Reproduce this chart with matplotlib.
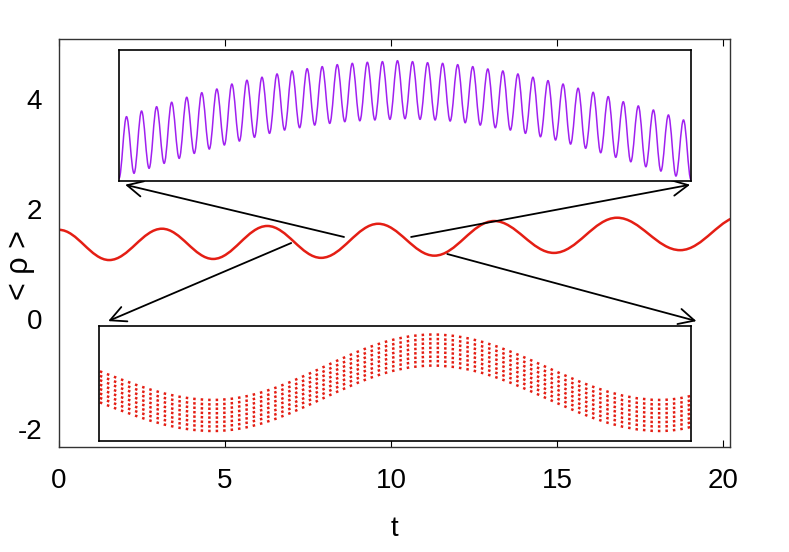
import numpy as np
import matplotlib.pyplot as plt
from matplotlib.path import Path
from matplotlib.patches import PathPatch

plt.rcParams['font.family'] = ['Liberation Sans', 'DejaVu Sans']
plt.rcParams['axes.unicode_minus'] = False

# main curve: turning points of <rho>(t)
t_turn = [0.0, 1.51, 3.10, 4.64, 6.27, 7.89, 9.61, 11.30, 13.10, 14.90, 16.80, 18.70, 20.60]
rho_turn = [1.62, 1.07, 1.64, 1.09, 1.69, 1.11, 1.73, 1.15, 1.78, 1.20, 1.84, 1.25, 1.88]

x_ticks = [0, 5, 10, 15, 20]
y_ticks = [-2, 0, 2, 4]

# upper inset (purple): peak and trough heights, inset units 0..1
peaks = [0.491, 0.534, 0.567, 0.601, 0.639, 0.674, 0.702, 0.740, 0.769, 0.792,
         0.817, 0.840, 0.857, 0.873, 0.888, 0.898, 0.906, 0.911, 0.918,
         0.911, 0.903, 0.898, 0.888, 0.873, 0.855, 0.840, 0.817, 0.792, 0.766,
         0.740, 0.708, 0.677, 0.644, 0.605, 0.573, 0.542, 0.504, 0.466]
troughs = [0.059, 0.097, 0.135, 0.173, 0.211, 0.244, 0.275, 0.305, 0.334, 0.364,
           0.389, 0.407, 0.427, 0.440, 0.453, 0.460, 0.466, 0.471, 0.476,
           0.471, 0.466, 0.458, 0.445, 0.427, 0.407, 0.389, 0.364, 0.338, 0.313,
           0.282, 0.250, 0.216, 0.181, 0.147, 0.109, 0.076, 0.038]
purple_start, purple_end = 0.02, 0.01

# lower inset (red dotted): turning points of the band centre + offset of each trace
band_x = [-0.17, 0.193, 0.564, 0.948, 1.15]
band_y = [0.68, 0.222, 0.791, 0.222, 0.45]
trace_offsets = [-0.135, -0.096, -0.058, -0.019, 0.019, 0.058, 0.096, 0.135]


def wave_path(xs, ys):
    """ smooth path through turning points (flat tangent at each one) """
    verts = [(xs[0], ys[0])]
    codes = [Path.MOVETO]
    for x0, y0, x1, y1 in zip(xs[:-1], ys[:-1], xs[1:], ys[1:]):
        d = (x1 - x0) * 0.363
        verts += [(x0 + d, y0), (x1 - d, y1), (x1, y1)]
        codes += [Path.CURVE4] * 3
    return Path(verts, codes)


fig = plt.figure(figsize=(7.89, 5.52), dpi=100)
ax = fig.add_axes([0.0748, 0.1902, 0.8504, 0.7391])

ax.add_patch(PathPatch(wave_path(t_turn, rho_turn), fill=False, edgecolor='#e41e14', lw=1.8))
ax.set_xlim(0, 20.2)
ax.set_ylim(-2.33, 5.09)
ax.set_xticks(x_ticks)
ax.set_yticks(y_ticks)
ax.tick_params(axis='x', direction='in', top=True, length=5, width=0.8, labelsize=20, pad=15)
ax.tick_params(axis='y', length=0, labelsize=20, pad=12)
ax.set_xlabel('t', fontsize=20, labelpad=16)
ax.set_ylabel('< ρ >', fontsize=22)
ax.yaxis.set_label_coords(-0.036, 0.446)
for s in ax.spines.values():
    s.set_color('#333333')
    s.set_linewidth(1.0)

# arrows from the main curve to the inset corners
arrow_kw = dict(arrowstyle='->', lw=1.3, color='black', mutation_scale=28, shrinkA=0, shrinkB=0)
ax.annotate('', xy=(1.99, 2.44), xytext=(8.58, 1.49), arrowprops=arrow_kw)
ax.annotate('', xy=(19.0, 2.44), xytext=(10.6, 1.49), arrowprops=arrow_kw)
ax.annotate('', xy=(1.48, -0.04), xytext=(6.99, 1.38), arrowprops=arrow_kw)
ax.annotate('', xy=(19.19, -0.04), xytext=(11.69, 1.18), arrowprops=arrow_kw)

# upper inset
ax_top = fig.add_axes([0.1508, 0.6721, 0.725, 0.2373])
seq = [purple_start]
for i, p in enumerate(peaks):
    seq.append(p)
    if i < len(troughs):
        seq.append(troughs[i])
seq.append(purple_end)
ax_top.add_patch(PathPatch(wave_path(np.linspace(0, 1, len(seq)), seq),
                           fill=False, edgecolor='#a020f0', lw=1.1))
ax_top.set_xlim(0, 1)
ax_top.set_ylim(0, 1)
ax_top.set_xticks([])
ax_top.set_yticks([])

# lower inset
ax_bot = fig.add_axes([0.1255, 0.2011, 0.7503, 0.2083])
for off in trace_offsets:
    ax_bot.add_patch(PathPatch(wave_path(band_x, [y + off for y in band_y]),
                               fill=False, edgecolor='#e41e14', lw=1.8,
                               linestyle=(0, (1, 2.0))))
ax_bot.set_xlim(0, 1)
ax_bot.set_ylim(0, 1)
ax_bot.set_xticks([])
ax_bot.set_yticks([])

for a in (ax_top, ax_bot):
    for s in a.spines.values():
        s.set_linewidth(1.2)

plt.savefig('out.png', dpi=100)
